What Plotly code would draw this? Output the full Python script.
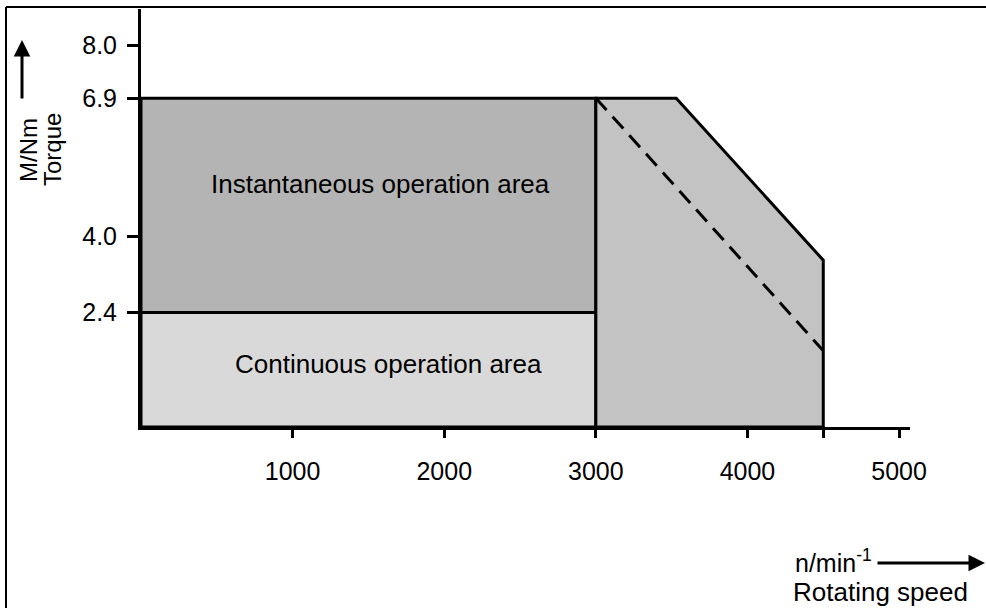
import plotly.graph_objects as go

# Torque / speed characteristic of the drive
corner_speed = 3000          # rpm, end of constant-torque range
peak_torque_speed = 3530     # rpm, where the peak-torque limit starts to fall
max_speed = 4500             # rpm
continuous_torque = 2.4      # Nm
peak_torque = 6.9            # Nm
torque_at_max_speed = 3.5    # Nm, peak limit at max speed
dashed_end_torque = 1.6      # Nm, dashed limit at max speed

x_ticks = [1000, 2000, 3000, 4000, 4500, 5000]
x_tick_text = ["1000", "2000", "3000", "4000", "", "5000"]
y_ticks = [2.4, 4.0, 6.9, 8.0]
y_tick_text = ["2.4", "4.0", "6.9", "8.0"]

FONT = "Liberation Sans, Arial, sans-serif"
W, H = 986, 608
L, R, T, B = 141, 76, 9, 181
PW, PH = W - L - R, H - T - B


def px(x):
    return (x - L) / PW


def py(y):
    return (H - B - y) / PH


fig = go.Figure()

edge = dict(color="black", width=3)

# continuous operation area
fig.add_trace(go.Scatter(
    x=[0, corner_speed, corner_speed, 0, 0],
    y=[0, 0, continuous_torque, continuous_torque, 0],
    fill="toself", fillcolor="#d9d9d9", line=edge, mode="lines",
    hoverinfo="skip", showlegend=False))

# instantaneous operation area
fig.add_trace(go.Scatter(
    x=[0, corner_speed, corner_speed, 0, 0],
    y=[continuous_torque, continuous_torque, peak_torque, peak_torque, continuous_torque],
    fill="toself", fillcolor="#b4b4b4", line=edge, mode="lines",
    hoverinfo="skip", showlegend=False))

# field-weakening range
fig.add_trace(go.Scatter(
    x=[corner_speed, corner_speed, peak_torque_speed, max_speed, max_speed, corner_speed],
    y=[0, peak_torque, peak_torque, torque_at_max_speed, 0, 0],
    fill="toself", fillcolor="#c3c3c3", line=edge, mode="lines",
    hoverinfo="skip", showlegend=False))

# dashed limit line
fig.add_trace(go.Scatter(
    x=[corner_speed, max_speed], y=[peak_torque, dashed_end_torque],
    mode="lines", line=dict(color="black", width=3, dash="16px,9px"),
    hoverinfo="skip", showlegend=False))


def label(x, y, text, size, ref="paper", angle=0):
    return dict(x=x, y=y, xref="x" if ref == "data" else "paper",
                yref="y" if ref == "data" else "paper", text=text,
                xanchor="center", yanchor="middle", textangle=angle,
                showarrow=False, font=dict(size=size, color="black", family=FONT))


annotations = [
    label(1577, 5.1, "Instantaneous operation area", 26, ref="data"),
    label(1635, 1.32, "Continuous operation area", 26, ref="data"),
    # y axis title
    label(px(28), py(150), "M/Nm", 24, angle=-90),
    label(px(52), py(150), "Torque", 24, angle=-90),
    # x axis title
    label(px(833), py(561), "n/min<sup>-1</sup>", 25),
    label(px(880), py(592), "Rotating speed", 26),
    # axis direction arrows
    dict(x=px(22), y=py(40), xref="paper", yref="paper", ax=0, ay=60,
         showarrow=True, arrowhead=2, arrowsize=1.1, arrowwidth=3, arrowcolor="black", text=""),
    dict(x=px(986), y=py(563), xref="paper", yref="paper", ax=-110, ay=0,
         showarrow=True, arrowhead=2, arrowsize=1.1, arrowwidth=3, arrowcolor="black", text=""),
]

shapes = [
    # frame lines
    dict(type="line", xref="paper", yref="paper", x0=px(6), x1=px(986), y0=py(7), y1=py(7),
         line=dict(color="black", width=2)),
    dict(type="line", xref="paper", yref="paper", x0=px(6), x1=px(6), y0=py(7), y1=py(608),
         line=dict(color="black", width=2)),
]

fig.update_layout(
    width=W, height=H,
    margin=dict(l=L, r=R, t=T, b=B),
    paper_bgcolor="white", plot_bgcolor="white",
    annotations=annotations, shapes=shapes,
    font=dict(family=FONT, color="black"),
    xaxis=dict(range=[0, 5072], tickvals=x_ticks, ticktext=x_tick_text,
               showgrid=False, zeroline=False, showline=True, linecolor="black", linewidth=3,
               ticks="outside", ticklen=8, tickwidth=3, tickcolor="black",
               tickfont=dict(size=25, color="black", family=FONT), ticklabelstandoff=12),
    yaxis=dict(range=[0, 8.77], tickvals=y_ticks, ticktext=y_tick_text,
               showgrid=False, zeroline=False, showline=True, linecolor="black", linewidth=3,
               ticks="outside", ticklen=11, tickwidth=3, tickcolor="black",
               tickfont=dict(size=25, color="black", family=FONT), ticklabelstandoff=5),
)

fig.write_html("out.html")
